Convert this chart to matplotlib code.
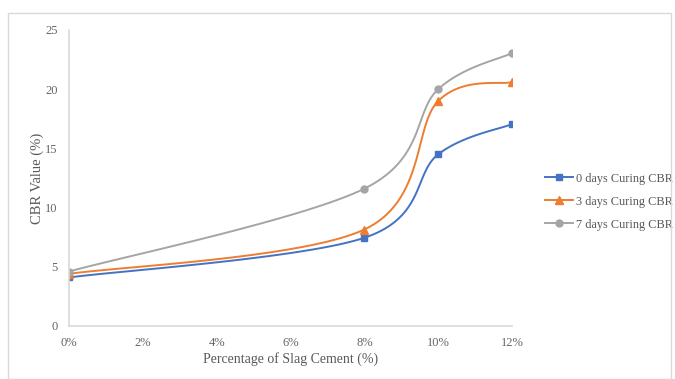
import numpy as np
import matplotlib.pyplot as plt
from matplotlib.patches import Rectangle

slag = [0, 8, 10, 12]
cbr_0 = [4.1, 7.45, 14.5, 17.05]
cbr_3 = [4.4, 8.15, 19.0, 20.6]
cbr_7 = [4.6, 11.6, 20.0, 23.05]
x_ticks = [0, 2, 4, 6, 8, 10, 12]
x_labels = ["0%", "2%", "4%", "6%", "8%", "10%", "12%"]

series = [
    ("0 days Curing CBR", cbr_0, "#4472C4", "s", 5),
    ("3 days Curing CBR", cbr_3, "#ED7D31", "^", 5.5),
    ("7 days Curing CBR", cbr_7, "#A5A5A5", "o", 5),
]


def excel_smooth(x, y, n=40):
    # bezier through points, control points like Excel's smoothed line
    p = np.column_stack([x, y]).astype(float)
    out = []
    for i in range(len(p) - 1):
        p0 = p[i - 1] if i > 0 else p[i]
        p3n = p[i + 2] if i + 2 < len(p) else p[i + 1]
        c1 = p[i] + (p[i + 1] - p0) / 6
        c2 = p[i + 1] - (p3n - p[i]) / 6
        t = np.linspace(0, 1, n)[:, None]
        seg = ((1 - t) ** 3 * p[i] + 3 * (1 - t) ** 2 * t * c1
               + 3 * (1 - t) * t ** 2 * c2 + t ** 3 * p[i + 1])
        out.append(seg if i == 0 else seg[1:])
    out = np.vstack(out)
    return out[:, 0], out[:, 1]


plt.rcParams['font.family'] = ['Liberation Serif', 'DejaVu Serif']
fig = plt.figure(figsize=(6.75, 3.79), dpi=100)
fig.patches.append(Rectangle((8 / 675, 0), 663 / 675, 366 / 379, transform=fig.transFigure,
                             fill=False, edgecolor="#D9D9D9", linewidth=1))
ax = fig.add_axes([69 / 675, 53 / 379, 443 / 675, 296 / 379])

for label, vals, col, mk, ms in series:
    sx, sy = excel_smooth(slag, vals)
    ax.plot(sx, sy, color=col, linewidth=1.4, solid_capstyle="round")
    ax.plot(slag, vals, linestyle="none", marker=mk, markersize=ms, color=col)
    ax.plot([], [], color=col, linewidth=1.4, marker=mk, markersize=ms, label=label)

ax.set_xlim(0, 12)
ax.set_ylim(0, 25)
ax.set_xticks(x_ticks)
ax.set_xticklabels(x_labels)
ax.set_yticks([0, 5, 10, 15, 20, 25])
ax.tick_params(length=0, labelsize=9, colors="#666666", pad=8)
for s in ["top", "right"]:
    ax.spines[s].set_visible(False)
for s in ["left", "bottom"]:
    ax.spines[s].set_color("#D9D9D9")
    ax.spines[s].set_linewidth(1.2)

ax.set_xlabel("Percentage of Slag Cement (%)", fontsize=10, color="#595959", labelpad=2)
ax.set_ylabel("CBR Value (%)", fontsize=10.5, color="#595959", labelpad=1)

leg = ax.legend(loc="center left", bbox_to_anchor=(1.05, 0.42), frameon=False,
                fontsize=8.8, handlelength=2.3, handletextpad=0.2, labelspacing=0.9,
                labelcolor="#595959")

fig.savefig("out.png", dpi=100)
